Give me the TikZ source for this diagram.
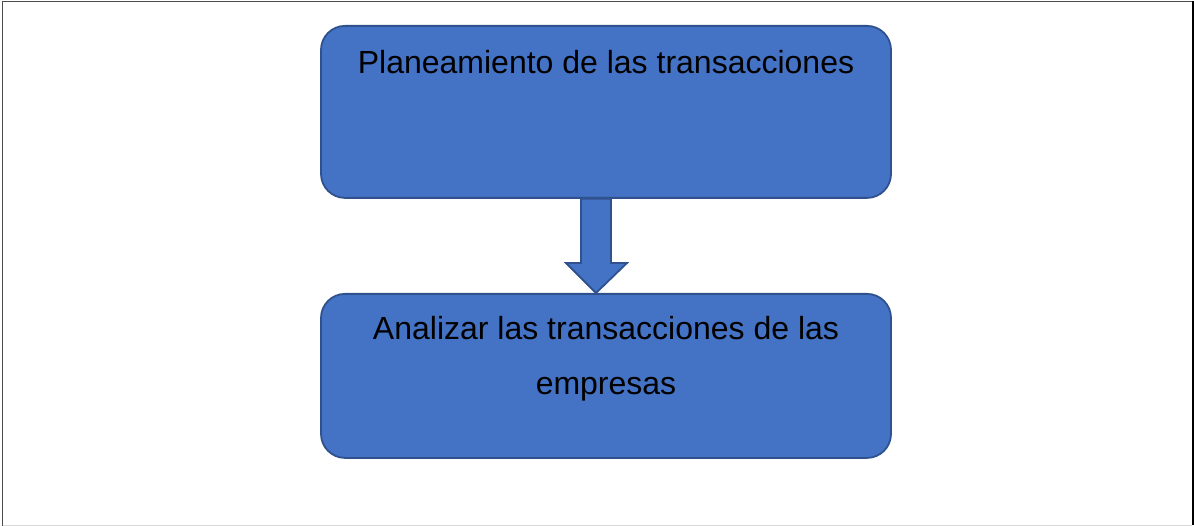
\documentclass[tikz,border=0pt]{standalone}
\usepackage{fontspec}
\setmainfont{Liberation Sans}
\definecolor{boxfill}{HTML}{4472C4}
\definecolor{boxline}{HTML}{2F528F}
\pgfdeclarelayer{paper}
\pgfdeclarelayer{arrowlayer}
\pgfsetlayers{paper,arrowlayer,main}
\begin{document}
\begin{tikzpicture}[x=1pt,y=-1pt,
  stepbox/.style={draw=boxline,fill=boxfill,line width=1.8pt,rounded corners=24pt,minimum width=570pt,inner sep=0pt,anchor=north},
  boxtext/.style={font=\fontsize{32}{55}\selectfont,align=center,text=black,inner sep=0pt}]
\useasboundingbox (0,0) rectangle (1194,526);
\begin{pgfonlayer}{paper}
\fill[white] (0,0) rectangle (1194,526);
\end{pgfonlayer}
% frame
\draw[line width=1.5pt,color=black!70] (2.5,526) -- (2.5,1.5) -- (1192,1.5);
\draw[line width=2pt,color=black] (1192.5,1.5) -- (1192.5,525);
\draw[line width=1pt,color=black!15] (2.5,525.5) -- (1192,525.5);
% boxes
\node[stepbox,minimum height=172pt] (top) at (606,25) {};
\node[stepbox,minimum height=164pt] (bot) at (606,293) {};
\node[boxtext,anchor=base] (toptext) at (606,73.5) {Planeamiento de las transacciones};
\node[boxtext,anchor=base] (bottext) at (606,395) {Analizar las transacciones de las\\empresas};
% arrow
\coordinate (tip) at (bot.north -| 596,0);
\begin{pgfonlayer}{arrowlayer}
\draw[draw=boxline,fill=boxfill,line width=1.8pt,line join=miter]
  (581,0 |- top.south) -- (581,263) -- (566,263) -- (tip) -- (627,263) -- (611,263) -- (611,0 |- top.south) -- cycle;
\end{pgfonlayer}
\end{tikzpicture}
\end{document}
